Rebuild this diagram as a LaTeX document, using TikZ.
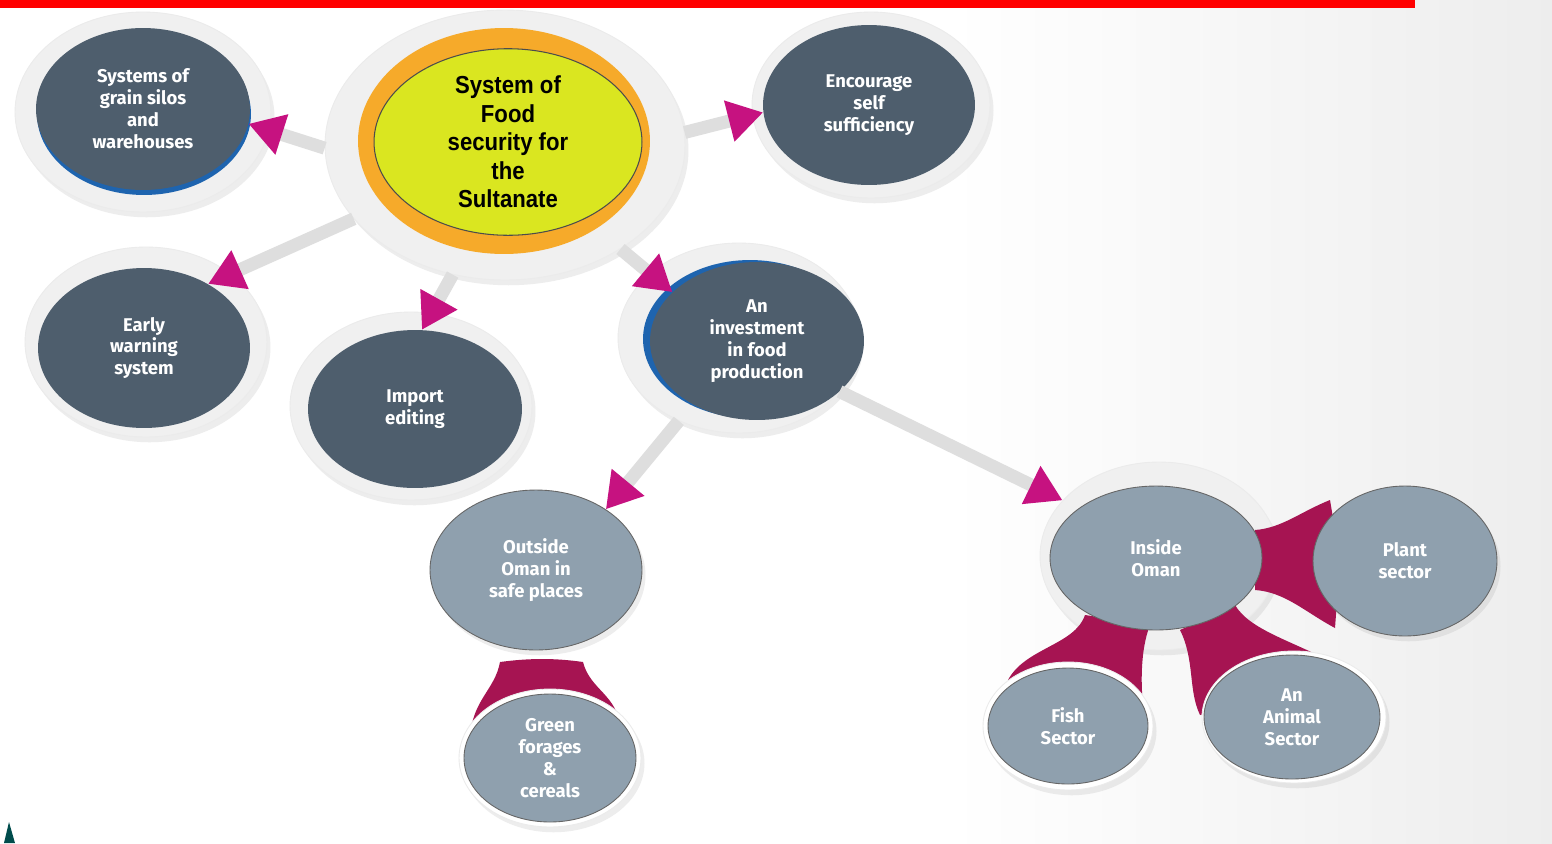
\documentclass[tikz,border=0pt]{standalone}
\usepackage{fontspec}
\setmainfont{Fira Sans}
\newfontfamily\hubfont[FakeStretch=0.9]{Liberation Sans}
\usetikzlibrary{shapes.geometric,arrows.meta,shadows,calc,positioning}

\definecolor{slate}{RGB}{78,94,109}
\definecolor{steel}{RGB}{143,160,174}
\definecolor{wine}{RGB}{166,20,82}
\definecolor{pinktip}{RGB}{198,18,128}
\definecolor{lime}{RGB}{218,230,32}
\definecolor{amber}{RGB}{246,170,42}
\definecolor{ringgray}{RGB}{240,240,240}
\definecolor{bargray}{RGB}{222,222,222}
\definecolor{edgeblue}{RGB}{30,100,175}

\begin{document}
\begin{tikzpicture}[x=0.02cm,y=-0.02cm,line cap=round]
      \useasboundingbox (0,0) rectangle (1552,843);
      \fill[white] (0,0) rectangle (1552,843);
      \shade[left color=white,right color=black!7] (950,0) rectangle (1552,843);
      \fill[red] (0,0) rectangle (1415,8);
      \fill[teal!60!black] (4,843) -- (9,822) -- (15,843) -- cycle;

      \tikzstyle{halo}=[ellipse, inner sep=0pt, fill=ringgray, draw=black!8, line width=0.5pt,
        drop shadow={opacity=0.14,shadow xshift=2pt,shadow yshift=-3pt}];
      \tikzstyle{rim}=[halo, fill=white];
      \tikzstyle{crescent}=[ellipse, inner sep=0pt, fill=edgeblue];
      \tikzstyle{darkdisc}=[ellipse, inner sep=0pt, fill=slate, text=white, align=center,
        font=\bfseries\fontsize{10.5}{12.5}\selectfont];
      \tikzstyle{lightdisc}=[darkdisc, fill=steel, draw=black!60, line width=0.5pt];
      \tikzstyle{joint}=[fill=wine];
      \tikzstyle{linkbar}=[line width=0.26cm, draw=bargray, line cap=butt,
        -{Triangle[length=0.7cm,width=0.8cm,color=pinktip]}];

      \node[halo, minimum width=7.2cm, minimum height=5.4cm] (hub) at (505,145) {};
      \node[halo, minimum width=5.12cm, minimum height=4cm] (siloshalo) at (143,112) {};
      \node[halo, minimum width=4.76cm, minimum height=3.72cm] (selfhalo) at (871,105) {};
      \node[halo, minimum width=4.84cm, minimum height=3.8cm] (warninghalo) at (146,342) {};
      \node[halo, minimum width=4.84cm, minimum height=3.76cm] (importhalo) at (411,406) {};
      \node[halo, minimum width=4.84cm, minimum height=3.8cm] (investhalo) at (739,338) {};
      \node[halo, minimum width=4.76cm, minimum height=3.76cm] (insidehalo) at (1159,556) {};

      \node[ellipse, fill=amber, minimum width=5.84cm, minimum height=4.52cm] (hubband) at (504,141) {};
      \node[ellipse, fill=lime, draw=black!70, line width=0.6pt, inner sep=0pt, align=center,
        minimum width=5.36cm, minimum height=3.6cm,
        font=\hubfont\bfseries\fontsize{14}{16.2}\selectfont] (hubtext) at (508,142)
        {System of\\Food\\security for\\the\\Sultanate};

      \node[crescent, minimum width=4.28cm, minimum height=3.24cm] (silosedge) at (144,114) {};
      \node[crescent, minimum width=4.28cm, minimum height=3.16cm] (investedge) at (750,339) {};

      \fill[joint] (500,662) .. controls (530,658) and (555,658) .. (583,662)
        .. controls (590,690) and (618,695) .. (620,728) -- (470,738)
        .. controls (472,700) and (495,690) .. (500,662) -- cycle;
      \fill[joint] (1255,530) .. controls (1282,528) and (1300,512) .. (1330,500)
        -- (1340,560) -- (1335,628) .. controls (1305,612) and (1285,592) .. (1255,590) -- cycle;
      \fill[joint] (1085,615) .. controls (1075,645) and (1025,648) .. (1008,680)
        -- (1145,720) .. controls (1140,690) and (1140,650) .. (1150,625) -- cycle;
      \fill[joint] (1180,630) .. controls (1195,660) and (1188,690) .. (1200,715)
        -- (1320,680) -- (1338,665) .. controls (1290,640) and (1250,630) .. (1235,605) -- cycle;

      \node[rim, minimum width=3.64cm, minimum height=2.76cm] (greenrim) at (550,758) {};
      \node[rim, minimum width=3.4cm, minimum height=2.56cm] (fishrim) at (1068,726) {};
      \node[rim, minimum width=3.68cm, minimum height=2.64cm] (animalrim) at (1294,717) {};

      \node[darkdisc, minimum width=4.28cm, minimum height=3.24cm] (silos) at (143,109) {Systems of\\grain silos\\and\\warehouses};
      \node[darkdisc, minimum width=4.24cm, minimum height=3.2cm] (selfsuff) at (869,105) {Encourage\\self\\sufficiency};
      \node[darkdisc, minimum width=4.24cm, minimum height=3.2cm] (warning) at (144,348) {Early\\warning\\system};
      \node[darkdisc, minimum width=4.28cm, minimum height=3.16cm] (imports) at (415,409) {Import\\editing};
      \node[darkdisc, minimum width=4.28cm, minimum height=3.16cm] (invest) at (757,341) {An\\investment\\in food\\production};
      \node[lightdisc, minimum width=4.24cm, minimum height=3.2cm,
        drop shadow={opacity=0.14,shadow xshift=2pt,shadow yshift=-3pt}] (outside) at (536,570) {Outside\\Oman in\\safe places};
      \node[lightdisc, minimum width=3.44cm, minimum height=2.56cm] (green) at (550,758) {Green\\forages\\\&\\cereals};
      \node[lightdisc, minimum width=4.24cm, minimum height=2.88cm] (inside) at (1156,558) {Inside\\Oman};
      \node[lightdisc, minimum width=3.68cm, minimum height=3.0cm,
        drop shadow={opacity=0.14,shadow xshift=2pt,shadow yshift=-3pt}] (plant) at (1405,561) {Plant\\sector};
      \node[lightdisc, minimum width=3.2cm, minimum height=2.32cm] (fish) at (1068,726) {Fish\\Sector};
      \node[lightdisc, minimum width=3.52cm, minimum height=2.48cm] (animal) at (1292,717) {An\\Animal\\Sector};

      \draw[linkbar] (hub.181) -- (silos.352);
      \draw[linkbar] (hub.4) -- (selfsuff.184);
      \draw[linkbar] (hub.206) -- (warning.45);
      \draw[linkbar] (hub.248) -- (imports.85);
      \draw[linkbar] (hub.318) -- (invest.150);
      \draw[linkbar] (investhalo.234) -- (outside.41);
      \draw[linkbar] (investhalo.332) -- (insidehalo.150);
    \end{tikzpicture}
\end{document}
